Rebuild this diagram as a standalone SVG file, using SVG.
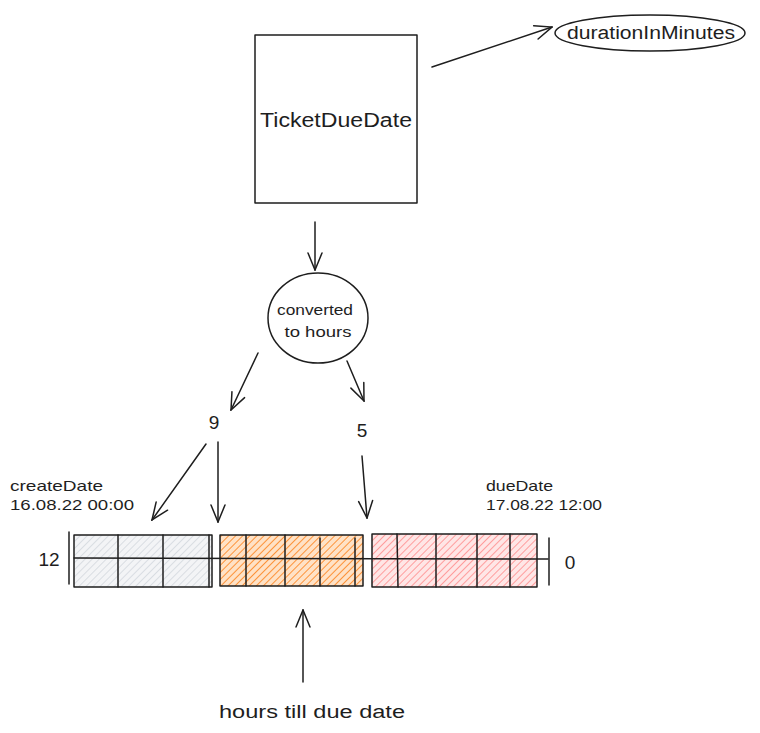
<svg xmlns="http://www.w3.org/2000/svg" width="760" height="733" viewBox="0 0 760 733">
<style>
.s{fill:none;stroke:#1e1e1e;stroke-width:1.5;stroke-linecap:round;stroke-linejoin:round}
.t{font-family:"Liberation Sans",Arial,sans-serif;fill:#1e1e1e}
</style>
<defs>
<marker id="ah" viewBox="0 0 20 20" refX="19" refY="10" markerWidth="20" markerHeight="20" markerUnits="userSpaceOnUse" orient="auto">
<path d="M2,3 L19,10 L2,17" fill="none" stroke="#1e1e1e" stroke-width="1.5" stroke-linecap="round"/>
</marker>
<pattern id="hg" width="5" height="5" patternUnits="userSpaceOnUse" patternTransform="rotate(45)"><rect width="5" height="5" fill="#f3f4f6"/><line x1="0" y1="0" x2="0" y2="5" stroke="#ced4da" stroke-width="1.4"/></pattern>
<pattern id="ho" width="5" height="5" patternUnits="userSpaceOnUse" patternTransform="rotate(45)"><rect width="5" height="5" fill="#ffe2c6"/><line x1="0" y1="0" x2="0" y2="5" stroke="#fd8a2a" stroke-width="1.8"/></pattern>
<pattern id="hr" width="5" height="5" patternUnits="userSpaceOnUse" patternTransform="rotate(45)"><rect width="5" height="5" fill="#ffe6e6"/><line x1="0" y1="0" x2="0" y2="5" stroke="#ff8a8a" stroke-width="1.6"/></pattern>
</defs>
<rect width="760" height="733" fill="#ffffff"/>

<g id="ticketDueDate">
<rect x="255" y="35" width="162" height="168" class="s"/>
<text class="t" x="336" y="127" font-size="20" text-anchor="middle" textLength="152" lengthAdjust="spacingAndGlyphs">TicketDueDate</text>
</g>

<g id="durationInMinutes">
<ellipse cx="650" cy="33" rx="95" ry="18" class="s"/>
<text class="t" x="651" y="39" font-size="18" text-anchor="middle" textLength="168" lengthAdjust="spacingAndGlyphs">durationInMinutes</text>
</g>

<g id="converted">
<ellipse cx="318" cy="318" rx="50" ry="45" class="s"/>
<text class="t" x="315" y="315" font-size="14" text-anchor="middle" textLength="76" lengthAdjust="spacingAndGlyphs">converted</text>
<text class="t" x="318" y="337" font-size="14" text-anchor="middle" textLength="67" lengthAdjust="spacingAndGlyphs">to hours</text>
</g>

<g id="labels">
<text class="t" x="214" y="429" font-size="19" text-anchor="middle">9</text>
<text class="t" x="362" y="437" font-size="19" text-anchor="middle">5</text>
<text class="t" x="49" y="566" font-size="19" text-anchor="middle">12</text>
<text class="t" x="570" y="569" font-size="19" text-anchor="middle">0</text>
<text class="t" x="10" y="491" font-size="15" textLength="93" lengthAdjust="spacingAndGlyphs">createDate</text>
<text class="t" x="10" y="510" font-size="15" textLength="124" lengthAdjust="spacingAndGlyphs">16.08.22 00:00</text>
<text class="t" x="486" y="491" font-size="15" textLength="67" lengthAdjust="spacingAndGlyphs">dueDate</text>
<text class="t" x="486" y="510" font-size="15" textLength="116" lengthAdjust="spacingAndGlyphs">17.08.22 12:00</text>
<text class="t" x="312" y="718" font-size="18" text-anchor="middle" textLength="186" lengthAdjust="spacingAndGlyphs">hours till due date</text>
</g>

<g id="bar-create">
<rect x="74" y="535" width="138" height="52" fill="url(#hg)"/>
<rect x="74" y="535" width="138" height="52" class="s"/>
<line x1="118" y1="535" x2="118" y2="587" class="s"/>
<line x1="163" y1="535" x2="163" y2="587" class="s"/>
<line x1="209" y1="535" x2="209" y2="587" class="s"/>
</g>

<g id="bar-hours">
<rect x="220" y="535" width="143" height="51" fill="url(#ho)"/>
<rect x="220" y="535" width="143" height="51" class="s"/>
<line x1="246" y1="535" x2="246" y2="586" class="s"/>
<line x1="285" y1="535" x2="285" y2="586" class="s"/>
<line x1="320" y1="538" x2="320" y2="586" class="s"/>
<line x1="355" y1="538" x2="355" y2="586" class="s"/>
</g>

<g id="bar-due">
<rect x="372" y="534" width="165" height="53" fill="url(#hr)"/>
<rect x="372" y="534" width="165" height="53" class="s"/>
<line x1="397" y1="534" x2="398" y2="587" class="s"/>
<line x1="436" y1="534" x2="436" y2="587" class="s"/>
<line x1="477" y1="534" x2="477" y2="587" class="s"/>
<line x1="510" y1="534" x2="510" y2="587" class="s"/>
</g>

<g id="axis">
<line x1="74" y1="558" x2="548" y2="559" class="s"/>
<line x1="69" y1="532" x2="69" y2="584" class="s"/>
<line x1="549" y1="538" x2="549" y2="585" class="s"/>
</g>

<g id="connectors">
<line x1="432" y1="67" x2="552" y2="27" class="s" marker-end="url(#ah)"/>
<line x1="315" y1="222" x2="315" y2="270" class="s" marker-end="url(#ah)"/>
<line x1="258" y1="353" x2="231" y2="410" class="s" marker-end="url(#ah)"/>
<line x1="347" y1="361" x2="364" y2="401" class="s" marker-end="url(#ah)"/>
<line x1="206" y1="444" x2="152" y2="520" class="s" marker-end="url(#ah)"/>
<line x1="218" y1="442" x2="218" y2="522" class="s" marker-end="url(#ah)"/>
<line x1="362" y1="456" x2="367" y2="518" class="s" marker-end="url(#ah)"/>
<line x1="303" y1="682" x2="303" y2="610" class="s" marker-end="url(#ah)"/>
</g>
</svg>
